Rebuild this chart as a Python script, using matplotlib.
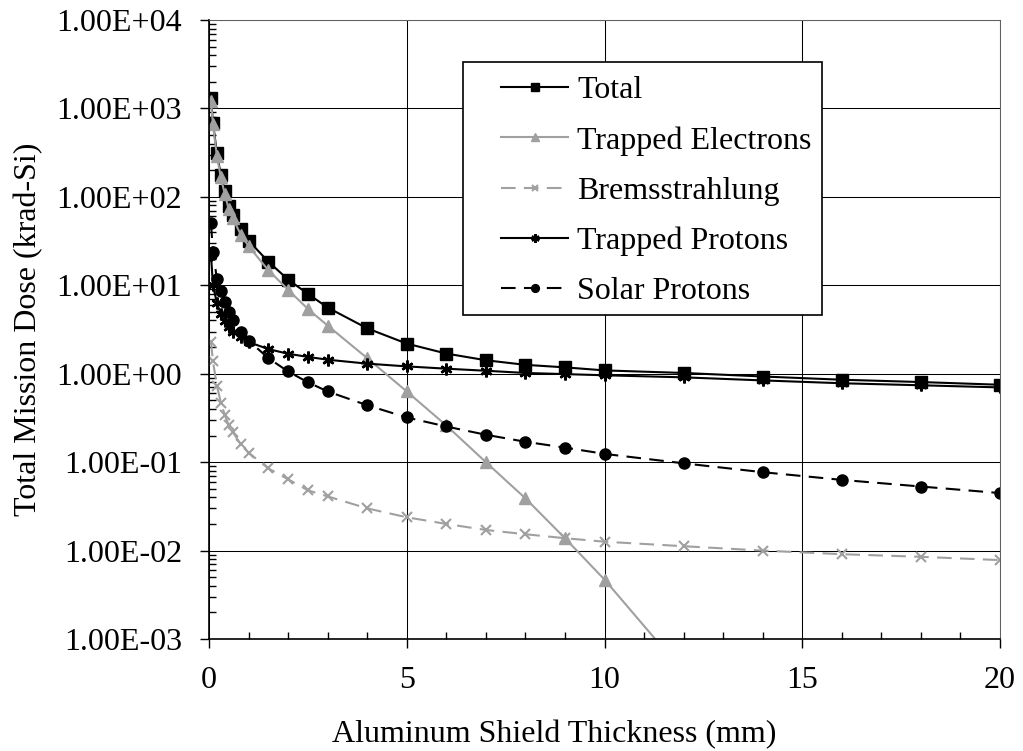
import numpy as np
import matplotlib
matplotlib.use("Agg")
import matplotlib.pyplot as plt
from matplotlib.patches import Rectangle
from matplotlib.ticker import FixedLocator, LogLocator, FuncFormatter, NullFormatter

plt.rcParams['font.family'] = ['Liberation Serif', 'DejaVu Serif']

# Aluminum shield thickness (mm)
thickness = [0.05, 0.1, 0.2, 0.3, 0.4, 0.5, 0.6, 0.8, 1.0, 1.5, 2, 2.5, 3, 4, 5,
             6, 7, 8, 9, 10, 12, 14, 16, 18, 20]

# Dose components (krad-Si)
total = [1300, 690, 310, 176, 117, 79, 63, 43, 32, 18.5, 11.6, 8.0, 5.6, 3.26, 2.19,
         1.69, 1.42, 1.26, 1.18, 1.09, 1.02, 0.93, 0.855, 0.805, 0.75]
trapped_electrons = [1200, 660, 288, 166, 107, 72, 58, 37.5, 27.7, 14.8, 8.9, 5.4, 3.5, 1.5, 0.63,
                     0.26, 0.10, 0.039, 0.0138, 0.0047, 0.00042, np.nan, np.nan, np.nan, np.nan]
bremsstrahlung = [2.3, 1.38, 0.73, 0.47, 0.34, 0.264, 0.22, 0.16, 0.128, 0.085, 0.064, 0.048, 0.041,
                  0.030, 0.0238, 0.020, 0.0171, 0.0153, 0.0138, 0.0126, 0.0112, 0.0100, 0.0091,
                  0.0085, 0.0078]
trapped_protons = [22, 10, 6.3, 4.7, 3.9, 3.4, 3.0, 2.6, 2.28, 1.9, 1.68, 1.55, 1.44, 1.30, 1.21,
                   1.14, 1.08, 1.02, 0.99, 0.96, 0.91, 0.84, 0.78, 0.74, 0.70]
solar_protons = [50, 24, 11.8, 8.6, 6.4, 5.0, 4.1, 3.0, 2.37, 1.5, 1.06, 0.80, 0.63, 0.44, 0.32,
                 0.253, 0.204, 0.17, 0.146, 0.124, 0.097, 0.077, 0.063, 0.053, 0.0447]

series_labels = ["Total", "Trapped Electrons", "Bremsstrahlung", "Trapped Protons", "Solar Protons"]
x_ticks = [0, 5, 10, 15, 20]

GRAY = '#a0a0a0'
FS = 23

W, H = 1023, 751
L, R, T, B = 209, 1000, 20, 639   # plot area in pixels
fig = plt.figure(figsize=(W / 100, H / 100), dpi=100)
ax = fig.add_axes([L / W, 1 - B / H, (R - L) / W, (B - T) / H])


def ax_frac(px, py):
    """Pixel position (from top-left) to axes fraction."""
    return (px - L) / (R - L), (B - py) / (B - T)


lw = 1.5
ax.plot(thickness, total, color='black', lw=lw, marker='s', ms=8, label=series_labels[0])
ax.plot(thickness, trapped_electrons, color=GRAY, lw=lw, marker='^', ms=8.5,
        label=series_labels[1])
ax.plot(thickness, bremsstrahlung, color=GRAY, lw=lw, dashes=(7, 4), marker='x', ms=7,
        mew=1.5, label=series_labels[2])
ax.plot(thickness, trapped_protons, color='black', lw=lw, marker=(6, 2, 0), ms=8.5,
        mew=1.8, label=series_labels[3])
ax.plot(thickness, solar_protons, color='black', lw=lw, dashes=(7, 4), marker='o', ms=8,
        label=series_labels[4])

ax.set_yscale('log')
ax.set_xlim(0, 20)
ax.set_ylim(1e-3, 1e4)

ax.xaxis.set_major_locator(FixedLocator(x_ticks))
ax.xaxis.set_minor_locator(FixedLocator(np.arange(0, 21, 1)))
ax.yaxis.set_major_locator(LogLocator(base=10, numticks=20))
ax.yaxis.set_minor_locator(LogLocator(base=10, subs=np.arange(2, 10), numticks=20))
ax.yaxis.set_major_formatter(FuncFormatter(lambda v, p: f"{v:.2E}"))
ax.yaxis.set_minor_formatter(NullFormatter())

ax.tick_params(axis='both', which='major', direction='out', length=6.5, width=1,
               labelsize=FS, color='black')
ax.tick_params(axis='x', which='major', pad=13)
ax.tick_params(axis='y', which='major', pad=13)
ax.tick_params(axis='both', which='minor', direction='in', length=5, width=1, color='black')

ax.grid(True, which='major', color='black', lw=0.75)
for side in ('left', 'bottom'):
    ax.spines[side].set_color('black')
    ax.spines[side].set_linewidth(1.2)
for side in ('top', 'right'):
    ax.spines[side].set_color('#606060')
    ax.spines[side].set_linewidth(0.75)

ax.set_xlabel("Aluminum Shield Thickness (mm)", fontsize=FS)
ax.xaxis.set_label_coords(*ax_frac(554, 742), transform=ax.transAxes)
ax.xaxis.label.set_va('baseline')
ax.set_ylabel("Total Mission Dose (krad-Si)", fontsize=FS)
ax.yaxis.set_label_coords(ax_frac(14, 0)[0], 0.5, transform=ax.transAxes)
ax.yaxis.label.set_va('top')

# Legend box with white fill, drawn over the grid
x0, y0 = ax_frac(463, 315)
x1, y1 = ax_frac(822, 62)
ax.add_patch(Rectangle((x0, y0), x1 - x0, y1 - y0, transform=ax.transAxes,
                       facecolor='white', edgecolor='black', lw=1.2, zorder=4.5,
                       clip_on=False))

leg = ax.legend(loc='upper left', bbox_to_anchor=ax_frac(501, 76),
                fontsize=FS, frameon=False, handlelength=2.1, handletextpad=0.28,
                labelspacing=0.65, borderpad=0, borderaxespad=0, markerscale=0.7)
leg.set_zorder(5)

fig.savefig('out.png', dpi=100)
